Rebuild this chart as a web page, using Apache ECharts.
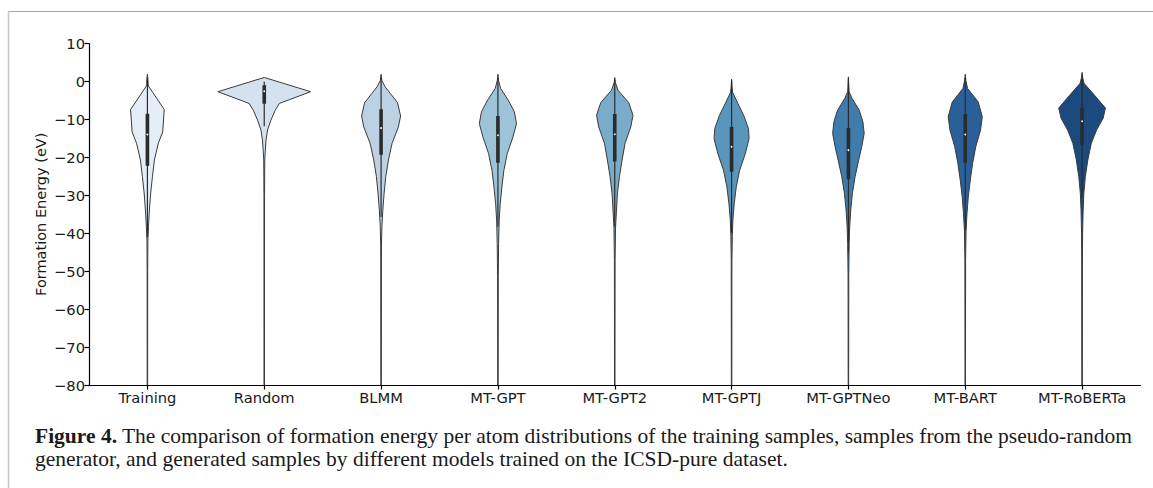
<!DOCTYPE html>
<html>
<head>
<meta charset="utf-8">
<script src="https://cdn.jsdelivr.net/npm/echarts@6/dist/echarts.min.js"></script>
<style>
  html, body { margin: 0; padding: 0; background: #fff; }
  #chart { width: 1153px; height: 488px; }
</style>
</head>
<body>
<div id="chart"></div>
<script>
// ---------------- DATA ----------------
const categories = ['Training', 'Random', 'BLMM', 'MT-GPT', 'MT-GPT2', 'MT-GPTJ', 'MT-GPTNeo', 'MT-BART', 'MT-RoBERTa'];

// Violin outlines: [formation energy (eV), relative density (half-width, % of category width)]
const trainingProfile = [[1.9,0],[0.8,0.4],[-0.8,0.7],[-1.4,1.3],[-7.4,14.4],[-13.3,13.1],[-16.3,9.3],[-20.7,6.0],[-25.1,4.3],[-29.4,2.8],[-33.9,1.7],[-38.3,0.9],[-41.8,0.4],[-50,0.25],[-80,0.2]];
const randomProfile = [[1.05,0],[-2.7,39.7],[-5.8,12.9],[-7.6,9.4],[-10.2,5.7],[-12.8,2.8],[-15.5,1.5],[-18.1,0.9],[-20.7,0.45],[-30,0.25],[-80,0.2]];
const blmmProfile = [[1.9,0],[0.3,0.6],[-1.4,3.4],[-3.2,8.0],[-5.6,14.1],[-9.1,16.7],[-12.0,14.8],[-16.3,9.4],[-20.7,6.3],[-25.1,4.0],[-29.5,2.6],[-33.9,1.5],[-38.3,0.7],[-43.6,0.3],[-80,0.2]];
const gptProfile = [[1.9,0],[0.3,0.5],[-1.85,2.3],[-4.9,8.8],[-8.0,14.1],[-11.1,15.9],[-14.6,12.9],[-19.0,8.0],[-23.4,5.1],[-27.8,3.4],[-32.1,2.0],[-36.5,1.1],[-42.7,0.6],[-51.5,0.3],[-80,0.2]];
const gpt2Profile = [[1.05,0],[-0.3,0.5],[-2.3,2.8],[-5.6,12.0],[-8.9,15.6],[-12.0,13.7],[-16.3,8.8],[-20.7,6.3],[-25.1,4.0],[-29.5,2.3],[-33.9,1.5],[-38.3,0.7],[-47,0.3],[-80,0.2]];
const gptjProfile = [[0.6,0],[-1.5,0.4],[-2.9,0.9],[-5.8,5.4],[-8.9,10.3],[-12.4,14.4],[-15.0,15.0],[-19.0,11.8],[-23.4,6.9],[-27.8,4.0],[-32.1,2.3],[-36.5,1.1],[-40.9,0.6],[-47.1,0.3],[-80,0.2]];
const gptneoProfile = [[1.2,0],[-1.0,0.3],[-2.7,0.6],[-4.5,3.2],[-7.6,9.3],[-10.6,12.4],[-13.7,13.5],[-17.2,11.4],[-20.7,8.8],[-25.1,5.7],[-29.5,3.4],[-33.9,2.0],[-38.3,1.1],[-42.7,0.6],[-51.5,0.3],[-80,0.2]];
const bartProfile = [[1.9,0],[0.3,0.5],[-1.85,2.0],[-5.4,11.1],[-9.3,14.6],[-12.8,13.1],[-17.2,9.0],[-21.6,6.3],[-26.0,4.3],[-30.4,2.6],[-34.8,1.5],[-39.2,0.7],[-47.1,0.3],[-80,0.2]];
const robertaProfile = [[2.4,0],[1.0,0.5],[-0.5,1.7],[-3.2,9.4],[-7.0,20.0],[-9.7,18.0],[-12.8,12.4],[-16.3,7.9],[-20.7,4.9],[-25.1,2.8],[-29.5,1.5],[-33.9,0.9],[-40.0,0.45],[-47.1,0.3],[-80,0.2]];

// Inner box: [whisker low, Q1, median, Q3, whisker high]
const trainingBox = [-41.0, -22.2, -14.0, -8.5, 1.0];
const randomBox   = [-11.8, -5.9, -2.6, -1.0, -0.1];
const blmmBox     = [-35.7, -19.3, -12.3, -7.3, 1.0];
const gptBox      = [-38.3, -21.4, -14.2, -9.1, 1.0];
const gpt2Box     = [-38.3, -21.1, -13.9, -8.6, 0.5];
const gptjBox     = [-39.9, -23.8, -17.2, -12.0, 0.3];
const gptneoBox   = [-45.1, -25.8, -18.1, -12.3, 1.0];
const bartBox     = [-39.2, -21.4, -14.0, -8.6, 1.0];
const robertaBox  = [-30.5, -16.7, -10.5, -6.9, 1.5];

const yMin = -80, yMax = 10, yInterval = 10;
const yAxisTitle = 'Formation Energy (eV)';
const captionBold = 'Figure 4.';
const captionLine1 = ' The comparison of formation energy per atom distributions of the training samples, samples from the pseudo-random';
const captionLine2 = 'generator, and generated samples by different models trained on the ICSD-pure dataset.';

// ---------------- STYLE ----------------
const profiles = [trainingProfile, randomProfile, blmmProfile, gptProfile, gpt2Profile, gptjProfile, gptneoProfile, bartProfile, robertaProfile];
const boxes = [trainingBox, randomBox, blmmBox, gptBox, gpt2Box, gptjBox, gptneoBox, bartBox, robertaBox];
const fillColors = ['#e5eef6', '#d4e2f0', '#bcd2e4', '#9dc3d8', '#79abcb', '#5a95bb', '#3f7bab', '#2a6099', '#1b4a7e'];
const edgeColor = '#3a3a3a';

const chart = echarts.init(document.getElementById('chart'), null, { renderer: 'svg' });

function renderViolin(params, api) {
  const i = api.value(0);
  const band = api.size([1, 0])[0];
  const prof = profiles[i];
  const box = boxes[i];
  const right = [], left = [];
  prof.forEach(([v, w]) => {
    const p = api.coord([i, v]);
    const dx = w / 100 * band;
    right.push([p[0] + dx, p[1]]);
    left.push([p[0] - dx, p[1]]);
  });
  const poly = right.concat(left.reverse());
  const c = api.coord([i, 0])[0];
  const yLo = api.coord([i, box[0]])[1];
  const yQ1 = api.coord([i, box[1]])[1];
  const yMed = api.coord([i, box[2]])[1];
  const yQ3 = api.coord([i, box[3]])[1];
  const yHi = api.coord([i, box[4]])[1];
  const boxW = band * 0.031;
  return {
    type: 'group',
    children: [
      { type: 'polygon', shape: { points: poly }, style: { fill: fillColors[i], stroke: edgeColor, lineWidth: 1 } },
      { type: 'line', shape: { x1: c, y1: yLo, x2: c, y2: yHi }, style: { stroke: '#2b2b2b', lineWidth: 1.2 } },
      { type: 'rect', shape: { x: c - boxW / 2, y: yQ3, width: boxW, height: yQ1 - yQ3 }, style: { fill: '#2b2b2b' } },
      { type: 'circle', shape: { cx: c, cy: yMed, r: 0.9 }, style: { fill: '#ffffff' } }
    ]
  };
}

const option = {
  backgroundColor: '#ffffff',
  animation: false,
  grid: { left: 89, right: 12.5, top: 43.5, bottom: 103, containLabel: false },
  xAxis: {
    type: 'category',
    data: categories,
    boundaryGap: true,
    axisLine: { show: true, onZero: false, lineStyle: { color: '#000', width: 1.2 } },
    axisTick: { show: true, alignWithLabel: true, length: 4.5, lineStyle: { color: '#000', width: 1.2 } },
    axisLabel: { color: '#1a1a1a', fontFamily: 'DejaVu Sans', fontSize: 14.7, margin: 5 },
    splitLine: { show: false }
  },
  yAxis: {
    type: 'value',
    min: yMin, max: yMax, interval: yInterval,
    name: yAxisTitle,
    nameLocation: 'middle',
    nameGap: 41,
    nameMoveOverlap: false,
    nameTextStyle: { color: '#1a1a1a', fontFamily: 'DejaVu Sans', fontSize: 14.5 },
    axisLine: { show: true, lineStyle: { color: '#000', width: 1.2 } },
    axisTick: { show: true, length: 4.5, lineStyle: { color: '#000', width: 1.2 } },
    axisLabel: { color: '#1a1a1a', fontFamily: 'DejaVu Sans', fontSize: 14.7, margin: 4,
      formatter: v => String(v).replace('-', '\u2212') },
    splitLine: { show: false }
  },
  graphic: [
    { type: 'line', shape: { x1: 8, y1: 11.5, x2: 1153, y2: 11.5 }, style: { stroke: '#a6a6a6', lineWidth: 1 }, silent: true },
    { type: 'line', shape: { x1: 8.5, y1: 11, x2: 8.5, y2: 488 }, style: { stroke: '#c4c4c4', lineWidth: 1.5 }, silent: true },
    { type: 'text', left: 35, top: 425,
      style: { text: '{b|' + captionBold + '}{n|' + captionLine1 + '}', rich: {
        b: { fontFamily: 'Liberation Serif', fontSize: 21.5, fontWeight: 'bold', fill: '#1a1a1a' },
        n: { fontFamily: 'Liberation Serif', fontSize: 21.5, fill: '#1a1a1a' } } } },
    { type: 'text', left: 35, top: 448,
      style: { text: captionLine2, fontFamily: 'Liberation Serif', fontSize: 21.5, fill: '#1a1a1a' } }
  ],
  series: [{
    type: 'custom',
    renderItem: renderViolin,
    data: categories.map((c, i) => [i]),
    encode: { x: 0 },
    clip: true,
    silent: true
  }]
};
chart.setOption(option);
</script>
</body>
</html>
